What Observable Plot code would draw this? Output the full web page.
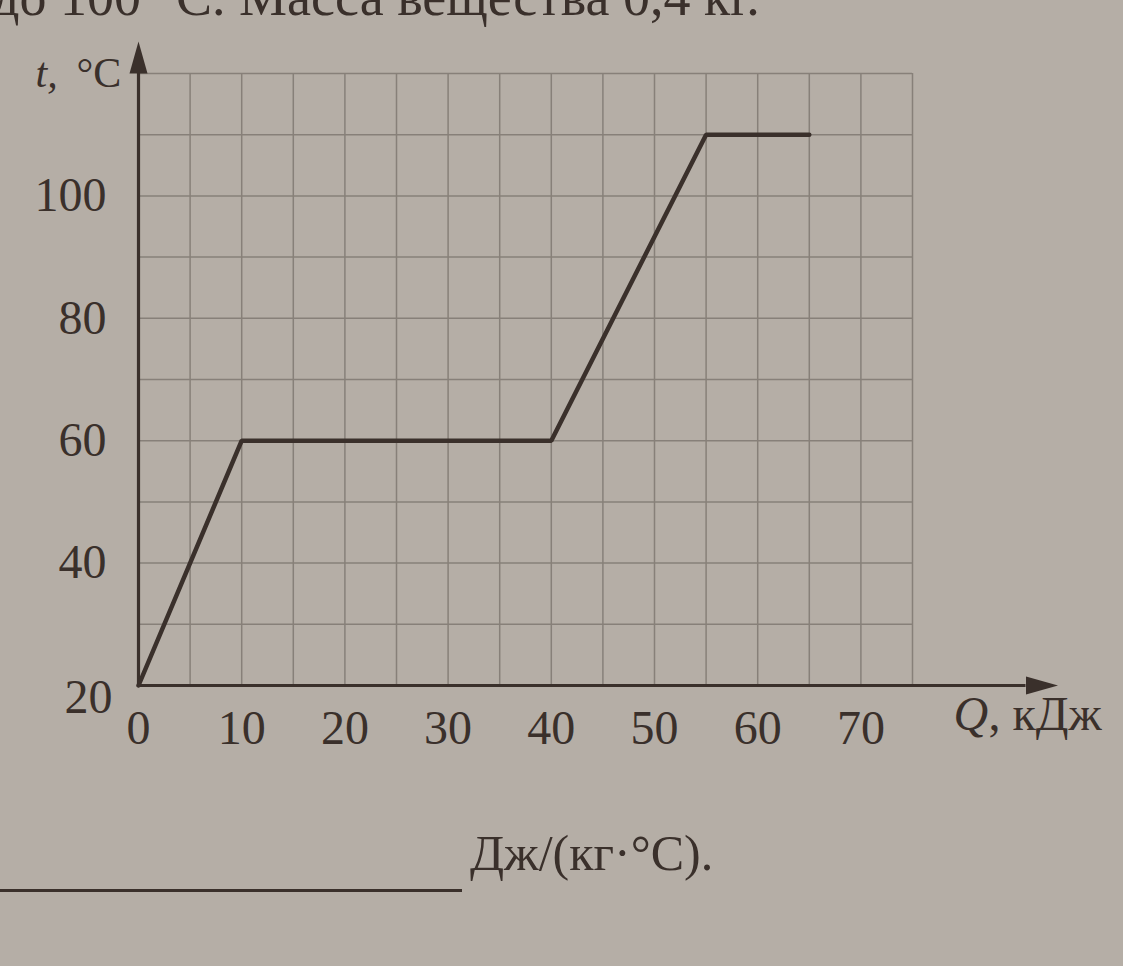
<!DOCTYPE html>
<html>
<head>
<meta charset="utf-8">
<script src="https://cdn.jsdelivr.net/npm/d3@7"></script>
<script src="https://cdn.jsdelivr.net/npm/@observablehq/plot@0.6"></script>
<style>
  html, body { margin: 0; padding: 0; background: #b5aea6; overflow: hidden; }
  body { width: 1123px; height: 966px; position: relative; font-family: "Liberation Serif", serif; color: #3a302b; }
  #top { position: absolute; left: -8px; top: -30px; font-size: 54px; line-height: 54px; white-space: nowrap; }
  #chart { position: absolute; left: 0; top: 0; }
  #blank { position: absolute; left: 0; top: 889px; width: 462px; border-top: 3px solid #3a302b; }
  #unit { position: absolute; left: 470px; top: 828px; font-size: 50px; line-height: 50px; white-space: nowrap; }
</style>
</head>
<body>
<div id="top">до 100 °С. Масса вещества 0,4 кг.</div>
<div id="chart"></div>
<div id="blank"></div>
<div id="unit">Дж/(кг·°С).</div>
<script>
// Data: heat supplied Q (kJ) and temperature t (°C)
const Q = [0, 10, 40, 55, 65];
const T = [20, 60, 60, 110, 110];
const data = Q.map((q, i) => ({q, t: T[i]}));

// Tick labels and grid
const xTicks = [0, 10, 20, 30, 40, 50, 60, 70];
const yTicks = [40, 60, 80, 100];
const yBottomLabel = [20];
const xGrid = d3.range(0, 76, 5);
const yGrid = d3.range(20, 121, 10);

// Axis extents (in data units)
const xDomain = [0, 75];
const yDomain = [20, 120];
const xAxisEnd = 86;
const yAxisEnd = 120;

const ink = "#3a302b";
const gridColor = "#878079";

const arrowUp = {
  draw(context) {
    context.moveTo(0, -32);
    context.lineTo(9, 0);
    context.lineTo(-9, 0);
    context.closePath();
  }
};

const chart = Plot.plot({
  width: 1123,
  height: 800,
  marginLeft: 138,
  marginRight: 211,
  marginTop: 73,
  marginBottom: 115,
  style: {background: "transparent", fontFamily: "Liberation Serif, serif", color: ink},
  x: {domain: xDomain},
  y: {domain: yDomain},
  marks: [
    Plot.ruleX(xGrid, {stroke: gridColor, strokeWidth: 1.5}),
    Plot.ruleY(yGrid, {stroke: gridColor, strokeWidth: 1.5}),
    Plot.ruleY([yDomain[0]], {x1: xDomain[0], x2: xAxisEnd, stroke: ink, strokeWidth: 3.2}),
    Plot.ruleX([xDomain[0]], {y1: yDomain[0], y2: yAxisEnd, stroke: ink, strokeWidth: 3.2}),
    Plot.dot([{x: xAxisEnd, y: yDomain[0]}], {x: "x", y: "y", symbol: arrowUp, rotate: 90, fill: ink, stroke: null, r: 5}),
    Plot.dot([{x: xDomain[0], y: yAxisEnd}], {x: "x", y: "y", symbol: arrowUp, rotate: 0, fill: ink, stroke: null, r: 5}),
    Plot.line(data, {x: "q", y: "t", stroke: ink, strokeWidth: 4.5, strokeLinejoin: "miter"}),
    Plot.axisX(xTicks, {tickSize: 0, tickPadding: 24, fontSize: 48, fill: ink, label: null}),
    Plot.axisY(yTicks, {tickSize: 0, tickPadding: 32, fontSize: 48, fill: ink, label: null}),
    Plot.text(yBottomLabel, {x: xDomain[0], y: d => d, text: d => String(d), dx: -26, dy: 12, textAnchor: "end", fontSize: 48, fill: ink}),
    Plot.text(["t,"], {frameAnchor: "top-left", dx: -103, dy: -16, textAnchor: "start", fontSize: 42, fontStyle: "italic", fill: ink}),
    Plot.text(["°C"], {frameAnchor: "top-left", dx: -62, dy: -16, textAnchor: "start", fontSize: 42, fill: ink}),
    Plot.text(["Q"], {frameAnchor: "bottom-right", dx: 41, dy: 44, textAnchor: "start", fontSize: 48, fontStyle: "italic", fill: ink}),
    Plot.text([", кДж"], {frameAnchor: "bottom-right", dx: 76, dy: 44, textAnchor: "start", fontSize: 48, fill: ink})
  ]
});
document.getElementById("chart").appendChild(chart);
</script>
</body>
</html>
